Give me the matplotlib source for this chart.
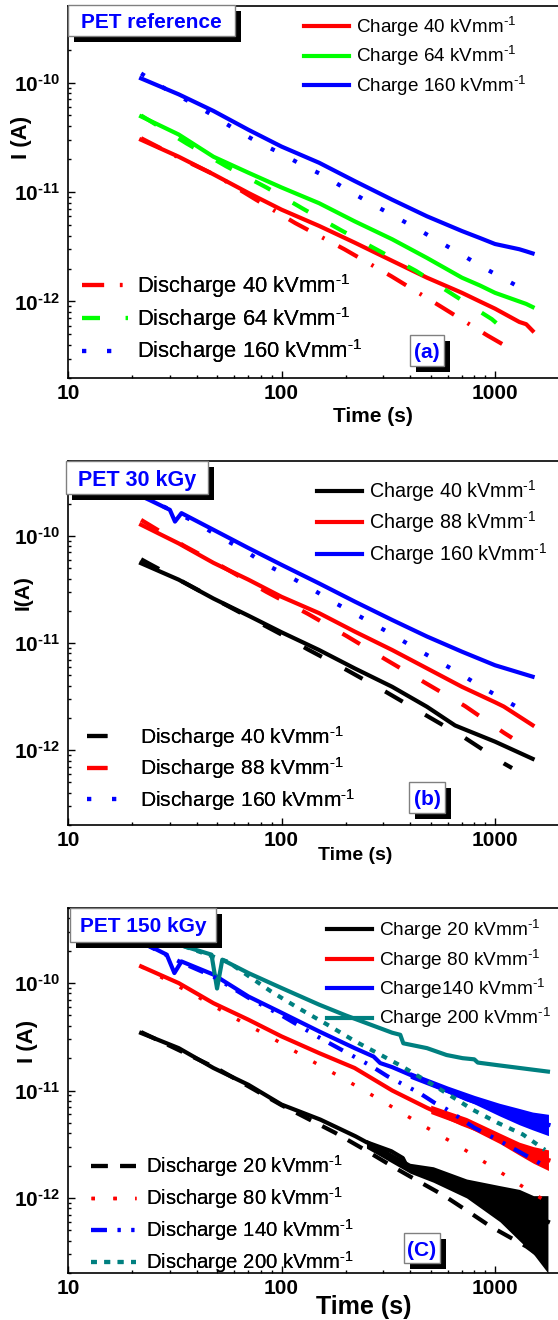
import matplotlib
matplotlib.use("Agg")
import matplotlib.pyplot as plt
from matplotlib.patches import Rectangle
from matplotlib.ticker import NullFormatter

plt.rcParams['font.family'] = ['Liberation Sans', 'DejaVu Sans']
plt.rcParams['mathtext.fontset'] = 'custom'
plt.rcParams['mathtext.rm'] = 'Liberation Sans'
plt.rcParams['mathtext.it'] = 'Liberation Sans:italic'
plt.rcParams['mathtext.bf'] = 'Liberation Sans:bold'

# ---------------- data ----------------
# (a) PET reference
t_a_charge = [22, 33, 48, 70, 100, 150, 220, 330, 480, 700, 850, 1000, 1300, 1400, 1500]
i_a_ch40 = [3.0e-11, 2.1e-11, 1.45e-11, 9.8e-12, 6.9e-12, 4.9e-12, 3.45e-12, 2.35e-12,
            1.65e-12, 1.2e-12, 1.0e-12, 8.6e-13, 6.5e-13, 6.2e-13, 5.4e-13]
i_a_ch64 = [4.9e-11, 3.35e-11, 2.1e-11, 1.5e-11, 1.1e-11, 7.9e-12, 5.4e-12, 3.7e-12,
            2.5e-12, 1.65e-12, 1.4e-12, 1.2e-12, 1.0e-12, 9.5e-13, 8.9e-13]
i_a_ch160 = [1.09e-10, 7.8e-11, 5.5e-11, 3.7e-11, 2.6e-11, 1.85e-11, 1.26e-11, 8.5e-12,
             6.0e-12, 4.4e-12, 3.8e-12, 3.35e-12, 3.0e-12, 2.87e-12, 2.75e-12]
t_a_dis40 = [22, 35, 50, 76, 116, 197, 327, 552, 920, 1210]
i_a_dis40 = [3.1e-11, 1.95e-11, 1.4e-11, 8.5e-12, 5.2e-12, 3.0e-12, 1.7e-12, 9.1e-13, 4.9e-13, 3.6e-13]
t_a_dis64 = [22, 36, 55, 85, 125, 189, 282, 427, 638, 966, 1050]
i_a_dis64 = [5.0e-11, 2.77e-11, 1.72e-11, 1.1e-11, 7.1e-12, 4.5e-12, 2.95e-12, 1.9e-12,
             1.15e-12, 6.9e-13, 6.0e-13]
t_a_dis160 = [22, 28.6, 36.7, 47, 59, 76, 98, 124, 159, 204, 259, 333, 427, 542, 696, 886, 1137, 1460]
i_a_dis160 = [1.21e-10, 8.75e-11, 6.75e-11, 5.1e-11, 3.86e-11, 2.91e-11, 2.28e-11, 1.78e-11,
              1.4e-11, 1.04e-11, 7.97e-12, 6.1e-12, 4.67e-12, 3.56e-12, 2.69e-12, 2.03e-12,
              1.56e-12, 1.19e-12]

# (b) PET 30 kGy
t_b_ch40 = [22, 33, 48, 70, 100, 150, 220, 330, 480, 650, 700, 1000, 1500]
i_b_ch40 = [5.55e-11, 3.9e-11, 2.6e-11, 1.8e-11, 1.26e-11, 8.6e-12, 5.8e-12, 3.9e-12,
            2.54e-12, 1.7e-12, 1.6e-12, 1.2e-12, 8.3e-13]
t_b_ch88 = [22, 33, 48, 70, 100, 150, 220, 330, 480, 700, 1000, 1100, 1500]
i_b_ch88 = [1.27e-10, 8.5e-11, 5.6e-11, 3.9e-11, 2.7e-11, 1.9e-11, 1.28e-11, 8.6e-12,
            5.8e-12, 3.9e-12, 2.8e-12, 2.55e-12, 1.71e-12]
t_b_ch160 = [22, 24, 30, 31.7, 34, 48, 70, 100, 150, 220, 330, 480, 700, 1000, 1500]
i_b_ch160 = [2.35e-10, 2.17e-10, 1.75e-10, 1.36e-10, 1.63e-10, 1.14e-10, 7.7e-11, 5.37e-11,
             3.6e-11, 2.44e-11, 1.64e-11, 1.15e-11, 8.3e-12, 6.2e-12, 4.85e-12]
t_b_dis40 = [22, 24, 36.6, 50, 70, 100, 133, 202, 308, 474, 723, 1102, 1202]
i_b_dis40 = [6.05e-11, 5.5e-11, 3.5e-11, 2.5e-11, 1.75e-11, 1.2e-11, 8.7e-12, 5.6e-12,
             3.5e-12, 2.12e-12, 1.3e-12, 7.5e-13, 6.8e-13]
t_b_dis88 = [22, 35, 50, 85, 133, 202, 308, 470, 723, 1102, 1202]
i_b_dis88 = [1.41e-10, 8.07e-11, 5.5e-11, 3.0e-11, 1.87e-11, 1.16e-11, 7.0e-12, 4.26e-12,
             2.58e-12, 1.45e-12, 1.3e-12]
t_b_dis160 = [22, 28, 39, 51, 66.5, 85, 109, 141, 180, 234, 303, 388, 502, 652, 836, 1074, 1393]
i_b_dis160 = [2.4e-10, 1.88e-10, 1.36e-10, 9.86e-11, 7.4e-11, 5.36e-11, 4.17e-11, 3.13e-11,
              2.34e-11, 1.76e-11, 1.32e-11, 9.9e-12, 7.35e-12, 5.5e-12, 4.05e-12, 3.04e-12, 2.28e-12]

# (c) PET 150 kGy
t_c_ch20 = [22, 33, 48, 70, 100, 122, 152, 222, 250, 327, 370, 390, 514, 736, 1055, 1514, 1770]
i_c_ch20 = [3.43e-11, 2.48e-11, 1.62e-11, 1.13e-11, 7.4e-12, 6.35e-12, 5.36e-12, 3.75e-12,
            3.3e-12, 2.72e-12, 2.35e-12, 1.9e-12, 1.64e-12, 1.19e-12, 9.6e-13, 6.8e-13, 6.0e-13]
t_c_ch20_band = [250, 400, 514, 736, 1055, 1300, 1514, 1770]
i_c_ch20_hi = [3.5e-12, 2.1e-12, 1.95e-12, 1.5e-12, 1.3e-12, 1.2e-12, 1.05e-12, 1.05e-12]
i_c_ch20_lo = [2.9e-12, 1.7e-12, 1.4e-12, 1.0e-12, 6.0e-13, 4.0e-13, 3.0e-13, 2.0e-13]
t_c_ch80 = [22, 33, 48, 70, 100, 150, 220, 330, 480, 700, 1050, 1500, 1780]
i_c_ch80 = [1.43e-10, 1.0e-10, 6.5e-11, 4.56e-11, 3.19e-11, 2.23e-11, 1.62e-11, 1.0e-11,
            6.9e-12, 4.9e-12, 3.6e-12, 2.5e-12, 2.25e-12]
t_c_ch80_band = [500, 736, 1055, 1300, 1514, 1780]
i_c_ch80_hi = [7.3e-12, 5.6e-12, 4.0e-12, 3.3e-12, 3.0e-12, 2.8e-12]
i_c_ch80_lo = [6.1e-12, 4.6e-12, 3.2e-12, 2.5e-12, 2.1e-12, 1.8e-12]
t_c_ch140 = [22, 24, 29, 31.5, 34, 48, 70, 100, 150, 220, 270, 290, 330, 480, 736, 1050, 1500, 1780]
i_c_ch140 = [2.4e-10, 2.22e-10, 1.84e-10, 1.24e-10, 1.59e-10, 1.2e-10, 7.5e-11, 5.3e-11,
             3.55e-11, 2.48e-11, 2.07e-11, 1.8e-11, 1.65e-11, 1.2e-11, 8.3e-12, 6.6e-12,
             5.3e-12, 4.8e-12]
t_c_ch140_band = [400, 600, 800, 1050, 1300, 1500, 1780]
i_c_ch140_hi = [1.5e-11, 1.1e-11, 9.0e-12, 7.6e-12, 6.8e-12, 6.3e-12, 6.0e-12]
i_c_ch140_lo = [1.3e-11, 9.5e-12, 7.5e-12, 5.8e-12, 4.8e-12, 4.3e-12, 3.8e-12]
t_c_ch200 = [35, 47, 49.9, 52.8, 70, 100, 150, 200, 330, 360, 372, 480, 593, 705, 800, 830,
             1030, 1514, 1770]
i_c_ch200 = [2.2e-10, 1.84e-10, 8.9e-11, 1.65e-10, 1.24e-10, 9.0e-11, 6.3e-11, 5.0e-11,
             3.45e-11, 3.3e-11, 2.75e-11, 2.48e-11, 2.14e-11, 2.0e-11, 1.95e-11, 1.82e-11,
             1.72e-11, 1.56e-11, 1.5e-11]
t_c_dis20 = [22, 50, 100, 178, 243, 336, 449, 573, 750, 955, 1406, 1625]
i_c_dis20 = [3.5e-11, 1.6e-11, 7.3e-12, 4.05e-12, 2.84e-12, 1.93e-12, 1.39e-12, 1.06e-12,
             7.46e-13, 5.41e-13, 3.52e-13, 2.85e-13]
t_c_dis80 = [22, 40.3, 60.4, 90.3, 135, 202, 303, 453, 678, 1005, 1460, 1734]
i_c_dis80 = [1.43e-10, 7.5e-11, 4.72e-11, 3.08e-11, 1.94e-11, 1.24e-11, 7.77e-12, 4.81e-12,
             3.03e-12, 1.86e-12, 1.15e-12, 9.3e-13]
t_c_dis140 = [22, 34, 48, 70, 100, 155, 262, 313, 438, 520, 593, 800, 1050, 1625]
i_c_dis140 = [2.4e-10, 1.55e-10, 1.15e-10, 7.3e-11, 5.0e-11, 3.0e-11, 1.7e-11, 1.36e-11,
              9.6e-12, 7.7e-12, 6.7e-12, 4.5e-12, 3.4e-12, 2.1e-12]
t_c_dis200 = [35, 56, 89, 104, 120, 164, 222, 280, 366, 480, 627, 789, 1030, 1350, 1715]
i_c_dis200 = [2.2e-10, 1.58e-10, 8.4e-11, 6.95e-11, 5.85e-11, 4.1e-11, 2.86e-11, 2.24e-11,
              1.68e-11, 1.22e-11, 8.8e-12, 6.6e-12, 5.0e-12, 3.9e-12, 2.8e-12]

HY = '\u2010'  # short hyphen, as in the original superscripts
SUP = '$^{' + HY + '1}$'

# ---------------- layout helpers (pixels, origin top-left) ----------------
W, H = 558, 1320
X0 = 68
fig = plt.figure(figsize=(W / 100, H / 100), dpi=100)


def fx(x):
    return x / W


def fy(y):
    return 1 - y / H


def make_axes(top, bottom):
    ax = fig.add_axes([fx(X0), fy(bottom), (W - X0) / W, (bottom - top) / H])
    ax.set_xscale('log')
    ax.set_yscale('log')
    ax.set_xlim(10, 10 ** (1 + (W - X0) / 213.5))
    ax.set_ylim(2e-13, 5e-10)
    ax.spines['right'].set_visible(False)
    for s in ax.spines.values():
        s.set_linewidth(1.2)
    ax.set_xticks([10, 100, 1000], labels=['10', '100', '1000'],
                  fontsize=15, fontweight='bold')
    ylabels = [r'$\mathbf{10^{' + HY + e + '}}$' for e in ('12', '11', '10')]
    ax.set_yticks([1e-12, 1e-11, 1e-10], labels=ylabels, fontsize=15)
    ax.xaxis.set_minor_formatter(NullFormatter())
    ax.yaxis.set_minor_formatter(NullFormatter())
    ax.tick_params(which='both', direction='in', top=False, right=False, width=1.0)
    ax.tick_params(which='major', length=5.2)
    ax.tick_params(which='minor', length=2.4)
    ax.tick_params(axis='x', pad=4.5)
    ax.tick_params(axis='y', pad=5.5)
    return ax


def axis_labels(ax, top, bottom, xlab, xpos, xfs, ylab, ypos, yfs):
    ax.set_xlabel(xlab, fontsize=xfs, fontweight='bold', va='center', ha='center')
    ax.xaxis.set_label_coords((xpos[0] - X0) / (W - X0), (bottom - xpos[1]) / (bottom - top))
    ax.set_ylabel(ylab, fontsize=yfs, fontweight='bold', va='center', ha='center')
    ax.yaxis.set_label_coords((ypos[0] - X0) / (W - X0), (bottom - ypos[1]) / (bottom - top))


def shadow_box(x0, y0, x1, y1, text, fs):
    d = 6
    fig.add_artist(Rectangle((fx(x0 + d), fy(y1 + d)), (x1 - x0) / W, (y1 - y0) / H,
                             transform=fig.transFigure, fc='black', ec='black', lw=0, zorder=5))
    fig.add_artist(Rectangle((fx(x0), fy(y1)), (x1 - x0) / W, (y1 - y0) / H,
                             transform=fig.transFigure, fc='white', ec='#808080', lw=1, zorder=6))
    fig.text(fx((x0 + x1) / 2), fy((y0 + y1) / 2), text, color='#0000ff', fontsize=fs,
             fontweight='bold', ha='center', va='center_baseline', zorder=7)


def legend(ax, lines, x, y, fs, hlen, hpad, spacing):
    leg = ax.legend(lines, [l.get_label() for l in lines], loc='upper left',
                    bbox_to_anchor=(fx(x), fy(y)), bbox_transform=fig.transFigure,
                    frameon=False, fontsize=fs, handlelength=hlen, handletextpad=hpad,
                    labelspacing=spacing, borderpad=0, borderaxespad=0)
    ax.add_artist(leg)
    return leg


RED, GREEN, BLUE, BLACK, TEAL = '#ff0000', '#00ff00', '#0000ff', '#000000', '#008080'
LW = 3.0

# ---------------- panel (a) ----------------
top, bottom = 6, 378
ax = make_axes(top, bottom)
c1, = ax.plot(t_a_charge, i_a_ch40, color=RED, lw=LW, label='Charge 40 kVmm' + SUP)
c2, = ax.plot(t_a_charge, i_a_ch64, color=GREEN, lw=LW, label='Charge 64 kVmm' + SUP)
c3, = ax.plot(t_a_charge, i_a_ch160, color=BLUE, lw=LW, label='Charge 160 kVmm' + SUP)
d1, = ax.plot(t_a_dis40, i_a_dis40, color=RED, lw=LW, dashes=(5.3, 3.8, 0.6, 3.8),
              label='Discharge 40 kVmm' + SUP)
d2, = ax.plot(t_a_dis64, i_a_dis64, color=GREEN, lw=LW, dashes=(4.3, 6.2),
              label='Discharge 64 kVmm' + SUP)
d3, = ax.plot(t_a_dis160, i_a_dis160, color=BLUE, lw=LW, dashes=(1, 5),
              label='Discharge 160 kVmm' + SUP)
legend(ax, [c1, c2, c3], 304, 15, 13.6, 2.38, 0.37, 0.28)
legend(ax, [d1, d2, d3], 82, 272, 15.8, 2.1, 0.41, 0.22)
axis_labels(ax, top, bottom, 'Time (s)', (373, 417), 15, 'I (A)', (21, 137), 16)
shadow_box(68, 5, 235, 36, 'PET reference', 15)
shadow_box(410, 335, 444, 366, '(a)', 15)

# ---------------- panel (b) ----------------
top, bottom = 461, 825
ax = make_axes(top, bottom)
c1, = ax.plot(t_b_ch40, i_b_ch40, color=BLACK, lw=LW, label='Charge 40 kVmm' + SUP)
c2, = ax.plot(t_b_ch88, i_b_ch88, color=RED, lw=LW, label='Charge 88 kVmm' + SUP)
c3, = ax.plot(t_b_ch160, i_b_ch160, color=BLUE, lw=LW, label='Charge 160 kVmm' + SUP)
d1, = ax.plot(t_b_dis40, i_b_dis40, color=BLACK, lw=LW, dashes=(4.9, 6.2),
              label='Discharge 40 kVmm' + SUP)
d2, = ax.plot(t_b_dis88, i_b_dis88, color=RED, lw=LW, dashes=(4.9, 6.2),
              label='Discharge 88 kVmm' + SUP)
d3, = ax.plot(t_b_dis160, i_b_dis160, color=BLUE, lw=LW, dashes=(1, 5),
              label='Discharge 160 kVmm' + SUP)
legend(ax, [c1, c2, c3], 317, 478, 14.2, 2.3, 0.35, 0.28)
legend(ax, [d1, d2, d3], 87, 724, 15.1, 2.1, 0.45, 0.27)
axis_labels(ax, top, bottom, 'Time (s)', (355, 855), 14, 'I(A)', (23, 593), 15)
shadow_box(66, 461, 208, 494, 'PET 30 kGy', 15.5)
shadow_box(409, 782, 445, 813, '(b)', 15)

# ---------------- panel (c) ----------------
top, bottom = 908, 1273
ax = make_axes(top, bottom)
ax.fill_between(t_c_ch20_band, i_c_ch20_lo, i_c_ch20_hi, color=BLACK, lw=0)
ax.fill_between(t_c_ch80_band, i_c_ch80_lo, i_c_ch80_hi, color=RED, lw=0)
ax.fill_between(t_c_ch140_band, i_c_ch140_lo, i_c_ch140_hi, color=BLUE, lw=0)
c1, = ax.plot(t_c_ch20, i_c_ch20, color=BLACK, lw=LW, label='Charge 20 kVmm' + SUP)
c2, = ax.plot(t_c_ch80, i_c_ch80, color=RED, lw=LW, label='Charge 80 kVmm' + SUP)
c3, = ax.plot(t_c_ch140, i_c_ch140, color=BLUE, lw=LW, label='Charge140 kVmm' + SUP)
c4, = ax.plot(t_c_ch200, i_c_ch200, color=TEAL, lw=LW, label='Charge 200 kVmm' + SUP)
d1, = ax.plot(t_c_dis20, i_c_dis20, color=BLACK, lw=LW, dashes=(4, 3),
              label='Discharge 20 kVmm' + SUP)
d2, = ax.plot(t_c_dis80, i_c_dis80, color=RED, lw=2.5, dashes=(1, 5.3),
              label='Discharge 80 kVmm' + SUP)
d3, = ax.plot(t_c_dis140, i_c_dis140, color=BLUE, lw=LW, dashes=(3.8, 2.6, 0.7, 2.6, 0.7, 2.4),
              label='Discharge 140 kVmm' + SUP)
d4, = ax.plot(t_c_dis200, i_c_dis200, color=TEAL, lw=LW, dashes=(1.4, 1.8),
              label='Discharge 200 kVmm' + SUP)
legend(ax, [c1, c2, c3, c4], 327, 918, 13.7, 2.35, 0.37, 0.28)
legend(ax, [d1, d2, d3, d4], 91, 1153, 14.6, 2.2, 0.5, 0.3)
axis_labels(ax, top, bottom, 'Time (s)', (364, 1307), 18, 'I (A)', (27, 1041), 16)
shadow_box(70, 908, 216, 942, 'PET 150 kGy', 15)
shadow_box(404, 1233, 440, 1263, '(C)', 15)

fig.savefig('out.png', dpi=100)
